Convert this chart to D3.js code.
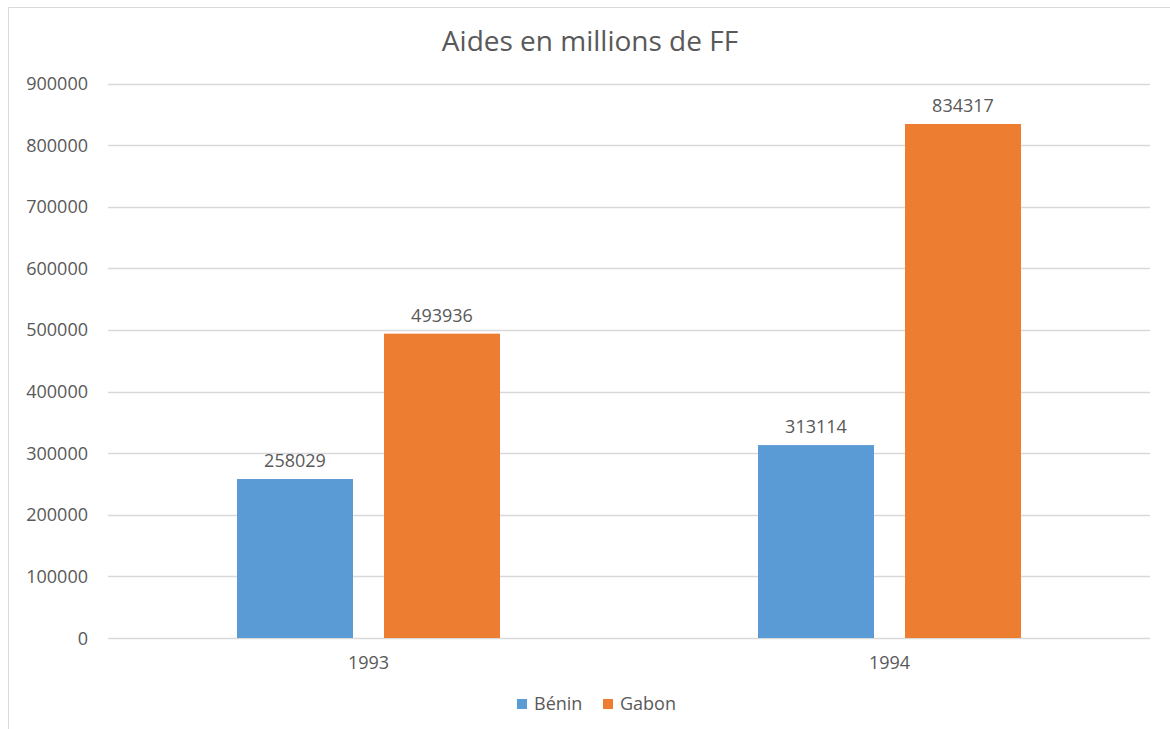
<!DOCTYPE html>
<html>
<head>
<meta charset="utf-8">
<script src="https://cdn.jsdelivr.net/npm/d3@7"></script>
<style>
	body { margin: 0; background: #fff; }
	text { font-family: 'Open Sans', sans-serif; fill: #595959; }
</style>
</head>
<body>
<div id="chart"></div>
<script>
var years = ['1993', '1994'];
var seriesNames = ['Bénin', 'Gabon'];
var benin = [258029, 313114];
var gabon = [493936, 834317];
var colors = ['#5b9bd5', '#ed7d31'];
var yTicks = [0, 100000, 200000, 300000, 400000, 500000, 600000, 700000, 800000, 900000];

var width = 1170,
	height = 729;

var svg = d3.select('#chart').append('svg')
	.attr('width', width)
	.attr('height', height);

// frame of the chart area (only top and left edges show in the capture)
svg.append('line')
	.attr('x1', 8.5).attr('x2', width)
	.attr('y1', 7.5).attr('y2', 7.5)
	.attr('stroke', '#d9d9d9');
svg.append('line')
	.attr('x1', 8.5).attr('x2', 8.5)
	.attr('y1', 7.5).attr('y2', height)
	.attr('stroke', '#d9d9d9');

var x0 = d3.scaleBand()
	.domain(years)
	.range([108, 1150]);

var groupW = 263;
var x1 = d3.scaleBand()
	.domain(seriesNames)
	.range([0, groupW])
	.paddingInner(0.211);

var y = d3.scaleLinear()
	.domain([0, 900000])
	.range([638, 83.5]);

// gridlines
svg.append('g').selectAll('line')
	.data(yTicks)
	.enter().append('line')
	.attr('x1', 108).attr('x2', 1150)
	.attr('y1', function(d) { return Math.round(y(d)) + 0.5; })
	.attr('y2', function(d) { return Math.round(y(d)) + 0.5; })
	.attr('stroke', '#d9d9d9')
	.attr('stroke-width', 1.5);

// y labels
svg.append('g').selectAll('text')
	.data(yTicks)
	.enter().append('text')
	.attr('x', 88)
	.attr('y', function(d) { return y(d) + 6.5; })
	.attr('text-anchor', 'end')
	.style('font-size', '18px')
	.text(function(d) { return d; });

// x labels
svg.append('g').selectAll('text')
	.data(years)
	.enter().append('text')
	.attr('x', function(d) { return x0(d) + x0.bandwidth() / 2; })
	.attr('y', 669)
	.attr('text-anchor', 'middle')
	.style('font-size', '18px')
	.text(function(d) { return d; });

var rows = years.map(function(yr, i) {
	return { year: yr, values: [
		{ name: seriesNames[0], value: benin[i], color: colors[0] },
		{ name: seriesNames[1], value: gabon[i], color: colors[1] }
	] };
});

var groups = svg.selectAll('.grp')
	.data(rows)
	.enter().append('g')
	.attr('class', 'grp')
	.attr('transform', function(d) { return 'translate(' + (x0(d.year) + (x0.bandwidth() - groupW) / 2) + ',0)'; });

groups.selectAll('rect')
	.data(function(d) { return d.values; })
	.enter().append('rect')
	.attr('x', function(d) { return x1(d.name); })
	.attr('width', x1.bandwidth())
	.attr('y', function(d) { return y(d.value); })
	.attr('height', function(d) { return y(0) - y(d.value); })
	.attr('fill', function(d) { return d.color; });

groups.selectAll('.lbl')
	.data(function(d) { return d.values; })
	.enter().append('text')
	.attr('class', 'lbl')
	.attr('x', function(d) { return x1(d.name) + x1.bandwidth() / 2; })
	.attr('y', function(d) { return y(d.value) - 12; })
	.attr('text-anchor', 'middle')
	.style('font-size', '18px')
	.text(function(d) { return d.value; });

// title
svg.append('text')
	.attr('x', 590)
	.attr('y', 51)
	.attr('text-anchor', 'middle')
	.style('font-size', '28px')
	.text('Aides en millions de FF');

// legend
var legend = svg.append('g').attr('transform', 'translate(517,710)');
var lx = [0, 86];
seriesNames.forEach(function(n, i) {
	legend.append('rect')
		.attr('x', lx[i]).attr('y', -11)
		.attr('width', 10).attr('height', 10)
		.attr('fill', colors[i]);
	legend.append('text')
		.attr('x', lx[i] + 17).attr('y', 0)
		.style('font-size', '18px')
		.text(n);
});
</script>
</body>
</html>
